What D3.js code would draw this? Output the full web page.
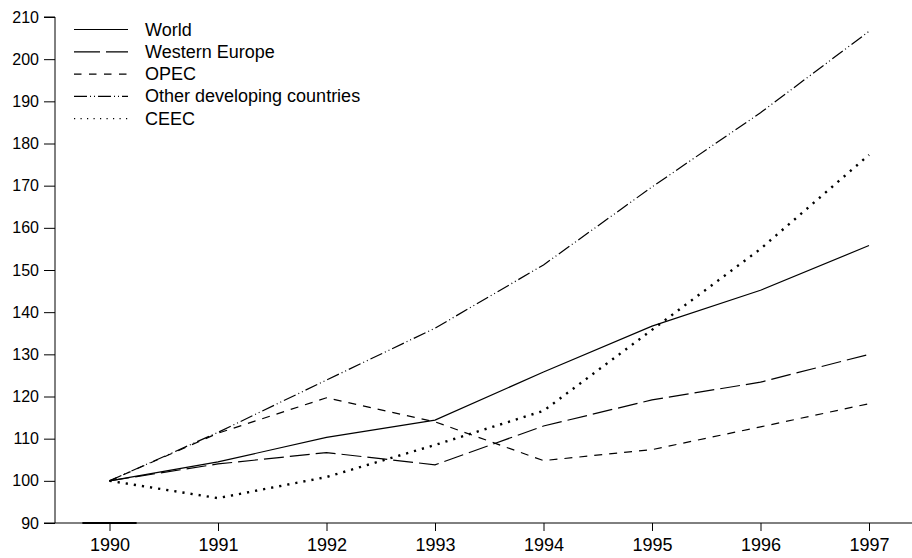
<!DOCTYPE html>
<html>
<head>
<meta charset="utf-8">
<script src="https://cdn.jsdelivr.net/npm/d3@7"></script>
<style>
  html, body { margin: 0; padding: 0; background: #fff; }
  svg { display: block; font-family: "Liberation Sans", Arial, Helvetica, sans-serif; }
</style>
</head>
<body>
<svg id="chart" width="912" height="558"></svg>
<script>
// Trade index, 1990 = 100
const years = [1990, 1991, 1992, 1993, 1994, 1995, 1996, 1997];
const world      = [100, 104.5, 110.3, 114.4, 125.8, 136.7, 145.2, 155.8];
const westEurope = [100, 104.0, 106.7, 103.8, 113.0, 119.2, 123.4, 130.0];
const opec       = [100, 111.3, 119.7, 114.0, 104.8, 107.4, 112.8, 118.3];
const otherDev   = [100, 111.5, 123.9, 136.2, 151.2, 169.7, 187.3, 206.6];
const ceec       = [100, 95.9, 100.9, 108.5, 116.6, 135.8, 155.0, 177.3];
const seriesNames = ["World", "Western Europe", "OPEC", "Other developing countries", "CEEC"];
const yTicks = [90, 100, 110, 120, 130, 140, 150, 160, 170, 180, 190, 200, 210];

const seriesValues = [world, westEurope, opec, otherDev, ceec];
const styles = [
  { dash: null,           width: 1.2, legendDash: null,           legendWidth: 1.2 },
  { dash: "20 6",         width: 1.2, legendDash: "26 6",         legendWidth: 1.2 },
  { dash: "8 7",          width: 1.2, legendDash: "7.5 7.5",      legendWidth: 1.2 },
  { dash: "13 3 1 3 1 3", width: 1.2, legendDash: "13 3 1 3 1 3", legendWidth: 1.2 },
  { dash: "2.2 6",        width: 2.4, legendDash: "1.2 5.3",      legendWidth: 1.2 }
];

const svg = d3.select("#chart");
const x = d3.scaleLinear().domain([1990, 1997]).range([109.5, 869]);
const y = d3.scaleLinear().domain([90, 210]).range([523, 17]);

// Y axis
const yAxis = d3.axisLeft(y).tickValues(yTicks).tickSize(11).tickPadding(5).tickFormat(d3.format("d"));
const gy = svg.append("g").attr("transform", "translate(55,0)").call(yAxis);
gy.select(".domain").attr("d", `M-11,${y(210)}H0V${y(90)}H-11`);
gy.selectAll("text").style("font-size", "16px").style("font-family", "Liberation Sans, Arial, sans-serif");

// X axis, extending across to the right edge
const xAxis = d3.axisBottom(x).tickValues(years).tickSize(8).tickPadding(7).tickFormat(d3.format("d"));
const gx = svg.append("g").attr("transform", `translate(0,${y(90)})`).call(xAxis);
gx.select(".domain").attr("d", "M55,0H912");
gx.selectAll("text").style("font-size", "18px").style("font-family", "Liberation Sans, Arial, sans-serif");
svg.selectAll(".domain, .tick line").attr("stroke", "#000").attr("stroke-width", 1);

// heavier stretch of the baseline under 1990
svg.append("line")
  .attr("x1", x(1989.75)).attr("x2", x(1990.25))
  .attr("y1", y(90)).attr("y2", y(90))
  .attr("stroke", "#000").attr("stroke-width", 2);

// Series lines
const line = d3.line().x((d, i) => x(years[i])).y(d => y(d));
seriesValues.forEach((vals, i) => {
  svg.append("path")
    .datum(vals)
    .attr("d", line)
    .attr("fill", "none")
    .attr("stroke", "#000")
    .attr("stroke-width", styles[i].width)
    .attr("stroke-dasharray", styles[i].dash);
});

// Legend
const legend = svg.append("g");
seriesNames.forEach((name, i) => {
  const ly = 29.5 + i * 22.3;
  legend.append("line")
    .attr("x1", 74).attr("x2", 128)
    .attr("y1", ly).attr("y2", ly)
    .attr("stroke", "#000")
    .attr("stroke-width", styles[i].legendWidth)
    .attr("stroke-dasharray", styles[i].legendDash);
  legend.append("text")
    .attr("x", 145).attr("y", ly + 6)
    .style("font-size", "18px")
    .text(name);
});
</script>
</body>
</html>
